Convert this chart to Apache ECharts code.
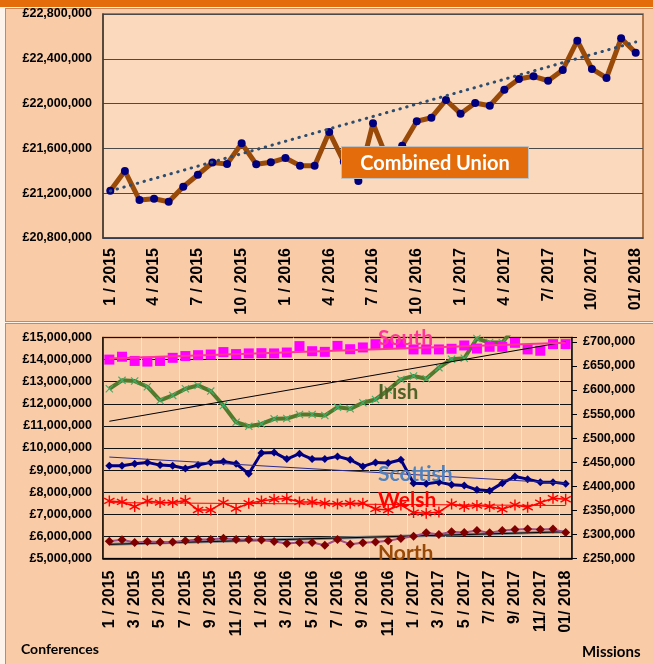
<!DOCTYPE html>
<html>
<head>
<meta charset="utf-8">
<script src="https://cdn.jsdelivr.net/npm/echarts@6/dist/echarts.min.js"></script>
<style>
  html, body { margin: 0; padding: 0; background: #fdf3ea; }
  .panel { position: absolute; background: #f9cba6; border: 1px solid #c7895c; }
  #bar { position: absolute; left: 0; top: 0; width: 653px; height: 7px; background: #e46c0a; }
  #chart { position: absolute; left: 0; top: 0; width: 653px; height: 664px; }
</style>
</head>
<body>
<div id="bar"></div>
<div class="panel" style="left:5px;top:8px;width:660px;height:312px;"></div>
<div class="panel" style="left:5px;top:323px;width:660px;height:360px;"></div>
<div id="chart"></div>
<script>
// months Jan 2015 .. Jan 2018
const months = [
  "1 / 2015", "2 / 2015", "3 / 2015", "4 / 2015", "5 / 2015", "6 / 2015",
  "7 / 2015", "8 / 2015", "9 / 2015", "10 / 2015", "11 / 2015", "12 / 2015",
  "1 / 2016", "2 / 2016", "3 / 2016", "4 / 2016", "5 / 2016", "6 / 2016",
  "7 / 2016", "8 / 2016", "9 / 2016", "10 / 2016", "11 / 2016", "12 / 2016",
  "1 / 2017", "2 / 2017", "3 / 2017", "4 / 2017", "5 / 2017", "6 / 2017",
  "7/ 2017", "8/ 2017", "9/ 2017", "10/ 2017", "11/ 2017", "12/ 2017",
  "01/ 2018",
];

// Combined Union (GBP)
const union = [
  21222000, 21398000, 21139000, 21151000, 21124000, 21258000, 21365000, 21473000,
  21461000, 21645000, 21458000, 21476000, 21514000, 21446000, 21446000, 21746000,
  21480000, 21309000, 21824000, 21500000, 21624000, 21842000, 21874000, 22032000,
  21910000, 22005000, 21981000, 22124000, 22220000, 22244000, 22204000, 22300000,
  22562000, 22309000, 22229000, 22583000, 22454000,
];
const unionTrend = [21220000, 22550000]; // first / last month

// Conferences (GBP millions, left axis)
const south = [
  14.0, 14.13, 13.94, 13.91, 13.94, 14.08, 14.16, 14.2, 14.23, 14.34,
  14.25, 14.28, 14.29, 14.28, 14.32, 14.61, 14.38, 14.35, 14.62, 14.47,
  14.55, 14.7, 14.7, 14.7, 14.46, 14.46, 14.46, 14.49, 14.64, 14.5,
  14.58, 14.58, 14.76, 14.46, 14.4, 14.7, 14.7,
];
const southTrend = [14.05, 14.76];
const north = [
  5.78, 5.85, 5.72, 5.77, 5.75, 5.75, 5.8, 5.86, 5.86, 5.92,
  5.86, 5.86, 5.84, 5.77, 5.68, 5.72, 5.72, 5.6, 5.86, 5.65,
  5.71, 5.75, 5.8, 5.91, 6.01, 6.16, 6.09, 6.21, 6.18, 6.27,
  6.16, 6.27, 6.31, 6.34, 6.31, 6.33, 6.18,
];
const northTrend = [5.64, 6.21];

// Missions (GBP thousands, right axis)
const irish = [
  602.6, 620, 618.5, 606.8, 578.2, 588.7, 602.6, 609.5, 597.7, 567.8,
  533, 524.7, 529.5, 540, 540.7, 549, 549, 546.9, 564.3, 560.8,
  573.4, 580.3, 599.8, 622, 629, 623.4, 646.4, 663.8, 665.9, 706.9,
  698.5, 698.5, 730, 740, 745, 750, 755,
];
const irishTrend = [535, 700];
const scottish = [
  442.6, 442.6, 446.8, 449.6, 444, 442.6, 437.1, 444, 449.6, 451.7,
  446.8, 425.9, 469, 470.4, 456.5, 467.6, 456.5, 456.5, 462.1, 455.1,
  441.2, 449.6, 448.2, 455.1, 406.5, 405.1, 408.6, 403, 401.6, 392.6,
  390.5, 406.5, 420.4, 414.8, 408.6, 408.6, 405.1,
];
const scottishTrend = [460.7, 406];
const welsh = [
  369.6, 367.5, 357.8, 369.6, 366.1, 366.1, 370.3, 350.8, 350.8, 366.1,
  353.6, 364.7, 369.6, 373.1, 374.5, 367.5, 367.5, 364.7, 363.4, 364.7,
  364.7, 352.9, 350.8, 361.3, 345.3, 343.9, 346.7, 363.4, 357.8, 359.9,
  357.8, 352.3, 361.3, 356.4, 366.1, 375.2, 373.1,
];
const welshTrend = [366, 360];

const M = (arr) => arr.map((v) => Math.round(v * 1000000));
const K = (arr) => arr.map((v) => Math.round(v * 1000));
// trend line: only first and last month set, joined straight
const trend = (ends) => months.map((m, i) => (i === 0 ? ends[0] : i === months.length - 1 ? ends[1] : null));
const gbp = (v) => "£" + String(v).replace(/\B(?=(\d{3})+(?!\d))/g, ",");

const axisFont = { fontFamily: "Liberation Sans", fontWeight: "bold", color: "#000" };
const X_SYMBOL = "path://M0,1L1,0L5,4L9,0L10,1L6,5L10,9L9,10L5,6L1,10L0,9L4,5Z";
const STAR_SYMBOL =
  "path://M4.4,0L5.6,0L5.6,3.9L9,1.9L9.6,3L6.2,5L9.6,7L9,8.1L5.6,6.1L5.6,10L4.4,10L4.4,6.1L1,8.1L0.4,7L3.8,5L0.4,3L1,1.9L4.4,3.9Z";

const chart = echarts.init(document.getElementById("chart"), null, { renderer: "canvas" });

// small helpers for the bottom chart
function dataLine(name, yAxisIndex, data, symbol, size, markColor, lineColor, width) {
  return {
    name,
    type: "line",
    xAxisIndex: 1,
    yAxisIndex,
    data,
    symbol,
    symbolSize: size,
    showAllSymbol: true,
    itemStyle: { color: markColor },
    lineStyle: { color: lineColor, width },
    z: 3,
  };
}
function trendLine(name, yAxisIndex, ends, color, width, z) {
  return {
    name,
    type: "line",
    xAxisIndex: 1,
    yAxisIndex,
    data: trend(ends),
    connectNulls: true,
    symbol: "none",
    lineStyle: { color, width },
    z: z || 4,
  };
}

const south_s = dataLine("South", 1, M(south), "rect", 10, "#ff00ff", "#ff00ff", 0);
south_s.lineStyle.opacity = 0;

const option = {
  animation: false,
  backgroundColor: "transparent",
  grid: [
    { left: 103, top: 14, width: 540, height: 224, show: true, backgroundColor: "#fad9bd", borderColor: "#9c5a26", borderWidth: 1.5 },
    { left: 103, top: 337.5, width: 469, height: 221, show: true, backgroundColor: "#f9cca8", borderColor: "#9c5a26", borderWidth: 1.5 },
  ],
  xAxis: [
    {
      type: "category",
      gridIndex: 0,
      data: months,
      boundaryGap: true,
      axisLine: { lineStyle: { color: "#2f3a55", width: 1.5 } },
      axisTick: { show: false },
      axisLabel: { ...axisFont, fontSize: 16, rotate: 90, interval: 2, margin: 10 },
    },
    {
      type: "category",
      gridIndex: 1,
      data: months,
      boundaryGap: true,
      axisLine: { lineStyle: { color: "#000", width: 1.5 } },
      axisTick: { show: false },
      axisLabel: { ...axisFont, fontSize: 16, rotate: 90, interval: 1, margin: 12 },
      splitLine: { show: true, interval: 2, lineStyle: { color: "#f4e2d2", width: 1 } },
    },
  ],
  yAxis: [
    {
      type: "value",
      gridIndex: 0,
      min: 20800000,
      max: 22800000,
      interval: 400000,
      axisLine: { show: true, lineStyle: { color: "#3a3a3a", width: 1.5 } },
      axisTick: { show: false },
      axisLabel: { ...axisFont, fontSize: 12.5, margin: 11, formatter: gbp },
      splitLine: { lineStyle: { color: "#4a4a4a", width: 1.2 } },
    },
    {
      type: "value",
      gridIndex: 1,
      min: 5000000,
      max: 15000000,
      interval: 1000000,
      axisLine: { show: true, lineStyle: { color: "#000", width: 1.5 } },
      axisTick: { show: false },
      axisLabel: { ...axisFont, fontSize: 12.5, margin: 11, formatter: gbp },
      splitLine: { lineStyle: { color: "#111", width: 1 } },
    },
    {
      type: "value",
      gridIndex: 1,
      position: "right",
      min: 250000,
      max: 709000,
      interval: 50000,
      axisLine: { show: true, lineStyle: { color: "#000", width: 1.5 } },
      axisTick: { show: true, inside: false, length: 5, lineStyle: { color: "#000" } },
      axisLabel: { ...axisFont, fontSize: 12.5, margin: 11, formatter: (v) => (v % 50000 === 0 ? gbp(v) : "") },
      splitLine: { show: false },
    },
  ],
  series: [
    {
      name: "Combined Union",
      type: "line",
      xAxisIndex: 0,
      yAxisIndex: 0,
      data: union,
      symbol: "circle",
      symbolSize: 8,
      showAllSymbol: true,
      itemStyle: { color: "#00007f" },
      lineStyle: { color: "#9a4a08", width: 5 },
      z: 3,
    },
    {
      name: "Combined trend",
      type: "line",
      xAxisIndex: 0,
      yAxisIndex: 0,
      data: trend(unionTrend),
      connectNulls: true,
      symbol: "none",
      lineStyle: { color: "#2e4c6e", width: 3, type: [0.5, 6.5], cap: "round" },
      z: 4,
    },
    dataLine("Irish", 2, K(irish), X_SYMBOL, 8, "#3fae6a", "#537a2c", 4),
    trendLine("Irish trend", 2, K(irishTrend), "#000", 1),
    south_s,
    trendLine("South trend", 1, M(southTrend), "#ff3399", 2),
    dataLine("Scottish", 2, K(scottish), "diamond", 8, "#000080", "#000080", 3),
    trendLine("Scottish trend", 2, K(scottishTrend), "#2b2b90", 1),
    dataLine("Welsh", 2, K(welsh), STAR_SYMBOL, 11, "#ff0000", "#ff0000", 1.5),
    trendLine("Welsh trend", 2, K(welshTrend), "#ff0000", 1),
    trendLine("North trend", 1, M(northTrend), "#808080", 3, 2),
    trendLine("North trend line", 1, M(northTrend), "#000", 1, 2),
    dataLine("North", 1, M(north), "diamond", 9, "#7f0000", "#a0508a", 2),
  ],
  graphic: [
    {
      type: "rect",
      z: 100,
      shape: { x: 341.5, y: 146.5, width: 187, height: 32 },
      style: { fill: "#e46c0a", stroke: "#c0c0c0", lineWidth: 1 },
    },
    {
      type: "text",
      z: 101,
      x: 435,
      y: 164,
      style: { text: "Combined Union", fill: "#fff", font: "bold 20px Lato", align: "center", verticalAlign: "middle" },
    },
    { type: "text", z: 100, x: 378, y: 338, style: { text: "South", fill: "#ff3399", font: "bold 21px Lato", verticalAlign: "middle" } },
    { type: "text", z: 100, x: 378, y: 392, style: { text: "Irish", fill: "#4f6228", font: "bold 21px Lato", verticalAlign: "middle" } },
    { type: "text", z: 100, x: 378, y: 474, style: { text: "Scottish", fill: "#4f81bd", font: "bold 21px Lato", verticalAlign: "middle" } },
    { type: "text", z: 100, x: 378, y: 500, style: { text: "Welsh", fill: "#ff0000", font: "bold 21px Lato", verticalAlign: "middle" } },
    { type: "text", z: 100, x: 378, y: 553, style: { text: "North", fill: "#984807", font: "bold 21px Lato", verticalAlign: "middle" } },
    { type: "text", z: 100, x: 21, y: 649, style: { text: "Conferences", fill: "#000", font: "bold 14px Lato", verticalAlign: "middle" } },
    { type: "text", z: 100, x: 582, y: 652, style: { text: "Missions", fill: "#000", font: "bold 15px Lato", verticalAlign: "middle" } },
  ],
};

chart.setOption(option);
</script>
</body>
</html>
